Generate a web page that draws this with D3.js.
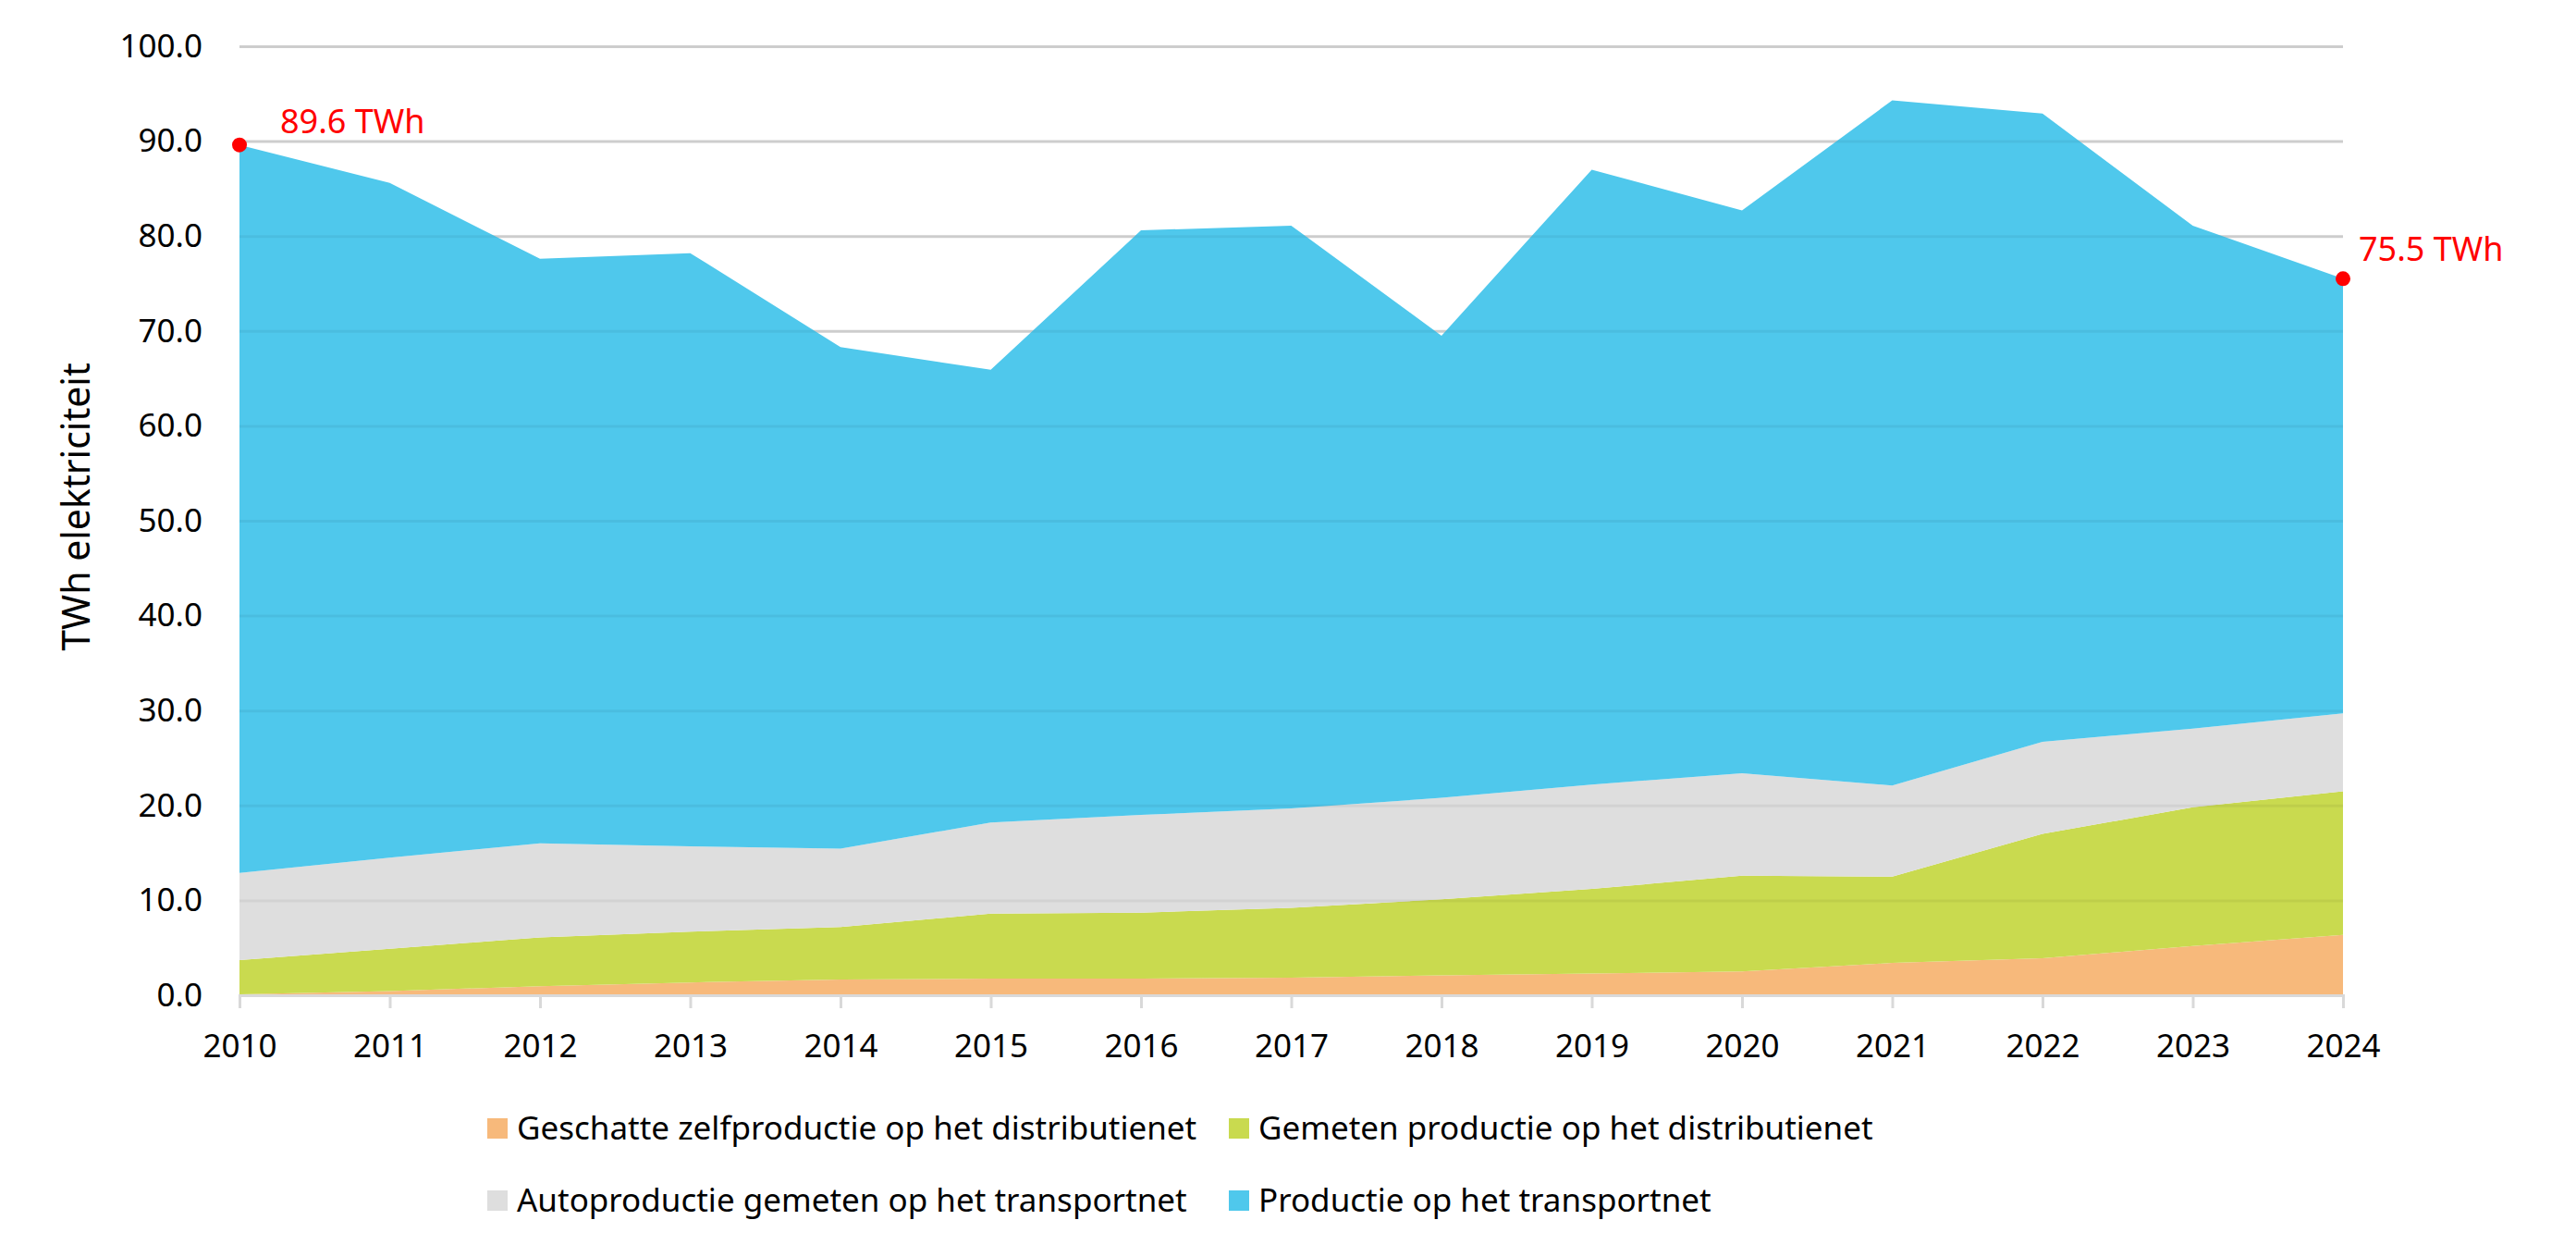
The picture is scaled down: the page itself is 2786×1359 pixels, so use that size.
<!DOCTYPE html>
<html>
<head>
<meta charset="utf-8">
<script src="https://cdn.jsdelivr.net/npm/d3@7"></script>
<style>
    body { margin: 0; background: #fff; }
    svg { display: block; font-family: "Noto Sans", sans-serif; }
</style>
</head>
<body>
<svg class="area-svg" width="2786" height="1359"></svg>
<script>
// years on the x axis
let years = [2010, 2011, 2012, 2013, 2014, 2015, 2016, 2017, 2018, 2019, 2020, 2021, 2022, 2023, 2024]

// series values in TWh, stacked from the bottom up
let zelfproductie = [0.1, 0.45, 0.95, 1.35, 1.65, 1.75, 1.75, 1.85, 2.1, 2.3, 2.5, 3.4, 3.9, 5.2, 6.35]
let gemetenDistributie = [3.6, 4.45, 5.15, 5.35, 5.55, 6.85, 6.95, 7.35, 8.0, 8.9, 10.1, 9.1, 13.1, 14.6, 15.15]
let autoproductie = [9.2, 9.6, 9.9, 9.0, 8.25, 9.6, 10.3, 10.5, 10.7, 11.0, 10.8, 9.6, 9.7, 8.3, 8.2]
let transportnet = [76.7, 71.1, 61.6, 62.5, 52.85, 47.7, 61.6, 61.4, 48.7, 64.8, 59.3, 72.2, 66.2, 53.0, 45.8]

let seriesNames = [
    "Geschatte zelfproductie op het distributienet",
    "Gemeten productie op het distributienet",
    "Autoproductie gemeten op het transportnet",
    "Productie op het transportnet"
]
let seriesColors = ["#f7b97b", "#c9da4f", "#dedede", "#4fc8ec"]

// y axis ticks
let yTickValues = [0, 10, 20, 30, 40, 50, 60, 70, 80, 90, 100]

// red annotations: first and last total
let annotations = [
    { year: 2010, label: "89.6 TWh" },
    { year: 2024, label: "75.5 TWh" }
]

let svg = d3.select(".area-svg")

//set plot area
let plotLeft = 259
let plotRight = 2534
let plotTop = 50
let plotBottom = 1076

let xScale = d3.scaleLinear()
    .domain([years[0], years[years.length - 1]])
    .range([plotLeft, plotRight])
let yScale = d3.scaleLinear()
    .domain([0, 100])
    .range([plotBottom, plotTop])

//build table for the stack
let table = years.map((y, i) => ({
    year: y,
    s0: zelfproductie[i],
    s1: gemetenDistributie[i],
    s2: autoproductie[i],
    s3: transportnet[i]
}))
let stacked = d3.stack().keys(["s0", "s1", "s2", "s3"])(table)

//grid lines behind the areas
let gridBack = svg.append("g")
    .attr("transform", "translate(" + plotLeft + ",0)")
    .call(d3.axisLeft(yScale).tickValues(yTickValues.slice(1)).tickSize(-(plotRight - plotLeft)).tickFormat(""))
gridBack.select(".domain").remove()
gridBack.selectAll(".tick line").style("stroke", "#d9d9d9").style("stroke-width", 3)

//draw areas
let area = d3.area()
    .x(d => xScale(d.data.year))
    .y0(d => yScale(d[0]))
    .y1(d => yScale(d[1]))

svg.append("g")
    .selectAll("path")
    .data(stacked)
    .join("path")
    .attr("d", area)
    .style("fill", (d, i) => seriesColors[i])

//faint grid lines on top so they show through the areas
let gridFront = svg.append("g")
    .attr("transform", "translate(" + plotLeft + ",0)")
    .call(d3.axisLeft(yScale).tickValues(yTickValues.slice(1)).tickSize(-(plotRight - plotLeft)).tickFormat(""))
gridFront.select(".domain").remove()
gridFront.selectAll(".tick line").style("stroke", "#000").style("stroke-opacity", 0.05).style("stroke-width", 3)

//y axis labels
let yAxis = svg.append("g")
    .attr("transform", "translate(" + plotLeft + ",0)")
    .call(d3.axisLeft(yScale).tickValues(yTickValues).tickSize(0).tickPadding(40).tickFormat(d3.format(".1f")))
yAxis.select(".domain").remove()
yAxis.selectAll("text")
    .style("font-family", "Noto Sans")
    .style("font-size", "35px")
    .style("fill", "#000")

//x axis
let xAxis = svg.append("g")
    .attr("transform", "translate(0," + plotBottom + ")")
    .call(d3.axisBottom(xScale).tickValues(years).tickSize(14).tickPadding(28).tickFormat(d3.format("d")))
xAxis.select(".domain").style("stroke", "#d9d9d9").style("stroke-width", 3)
xAxis.selectAll(".tick line").style("stroke", "#d9d9d9").style("stroke-width", 3)
xAxis.selectAll("text")
    .style("font-family", "Noto Sans")
    .style("font-size", "35px")
    .style("fill", "#000")

//y axis title
svg.append("text")
    .attr("transform", "translate(97,548) rotate(-90)")
    .attr("text-anchor", "middle")
    .style("font-size", "41px")
    .style("fill", "#000")
    .text("TWh elektriciteit")

//annotations
let totals = stacked[stacked.length - 1]
annotations.forEach(a => {
    let idx = years.indexOf(a.year)
    let cx = xScale(a.year)
    let cy = yScale(totals[idx][1])
    svg.append("circle")
        .attr("cx", cx)
        .attr("cy", cy)
        .attr("r", 8)
        .style("fill", "#ff0000")
    let first = idx === 0
    svg.append("text")
        .attr("x", first ? cx + 44 : cx + 17)
        .attr("y", first ? cy - 13 : cy - 19)
        .style("font-size", "36px")
        .style("fill", "#ff0000")
        .text(a.label)
})

//legend
let legendCols = [527, 1329]
let legendRows = [1220, 1298]
let legend = svg.append("g")
seriesNames.forEach((name, i) => {
    let lx = legendCols[i % 2]
    let ly = legendRows[Math.floor(i / 2)]
    legend.append("rect")
        .attr("x", lx)
        .attr("y", ly - 11)
        .attr("width", 22)
        .attr("height", 22)
        .style("fill", seriesColors[i])
    legend.append("text")
        .attr("x", lx + 32)
        .attr("y", ly)
        .attr("dy", "0.35em")
        .style("font-size", "35px")
        .style("fill", "#000")
        .text(name)
})
</script>
</body>
</html>
